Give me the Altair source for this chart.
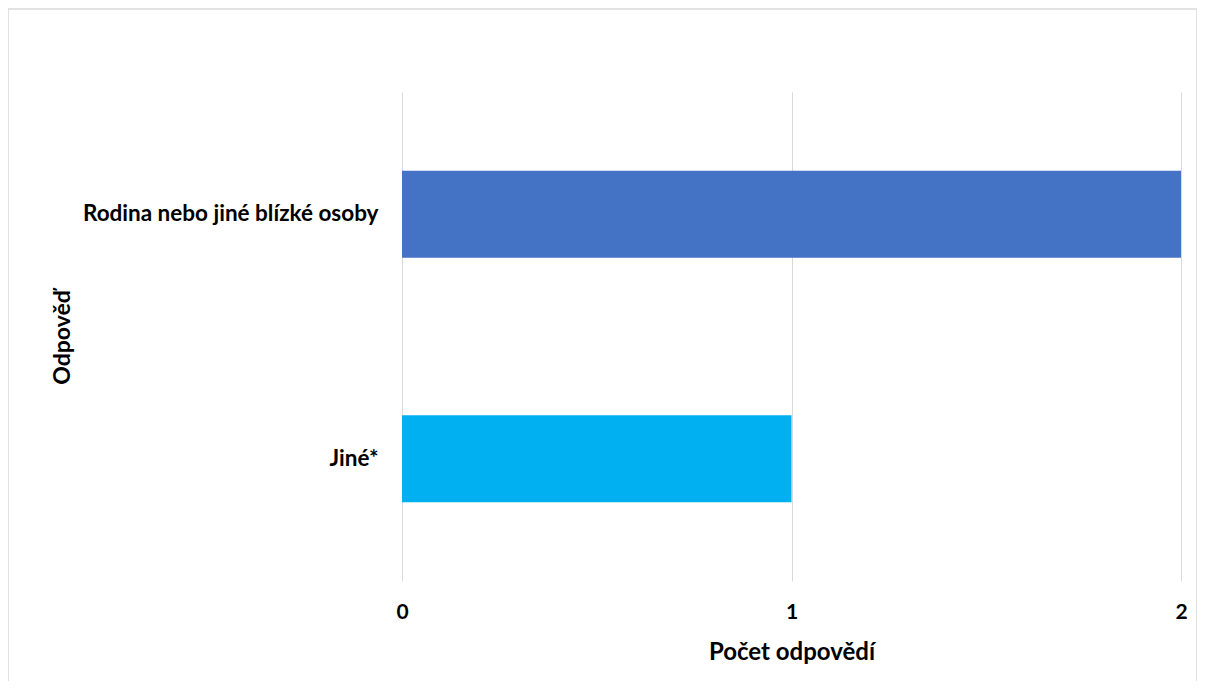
import altair as alt
import pandas as pd

categories = ["Rodina nebo jiné blízké osoby", "Jiné*"]
values = [2, 1]
colors = ["#4472C4", "#00B0F0"]
x_ticks = [0, 1, 2]

df = pd.DataFrame({"Odpověď": categories, "Počet": values, "barva": colors})

FONT = "Lato"

bars = alt.Chart(df).mark_bar(size=87).encode(
    x=alt.X("Počet:Q", scale=alt.Scale(domain=[0, 2], nice=False),
            axis=alt.Axis(title="Počet odpovědí", values=x_ticks, labelExpr="datum.value",
                          grid=True, gridColor="#d9d9d9", gridWidth=1,
                          domain=False, ticks=False, labelPadding=20, labelOverlap=False,
                          labelFlush=False,
                          labelFont=FONT, labelFontSize=21, labelFontWeight="bold",
                          labelColor="#000000",
                          titleFont=FONT, titleFontSize=24, titleFontWeight="bold",
                          titleColor="#000000", titlePadding=18)),
    y=alt.Y("Odpověď:N", sort=categories,
            axis=alt.Axis(title="Odpověď", domain=False, ticks=False, grid=False,
                          labelPadding=24, labelLimit=500, labelFont=FONT, labelFontSize=22.5,
                          labelFontWeight="bold", labelColor="#000000",
                          titleFont=FONT, titleFontSize=23, titleFontWeight="bold",
                          titleColor="#000000", titleX=-340, titleY=245,
                          titleAngle=270, titleAlign="center", titleBaseline="middle")),
    color=alt.Color("barva:N", scale=None, legend=None),
)

border = alt.Chart(df).mark_rect(fill="transparent", stroke="#d9d9d9", strokeWidth=1).encode(
    x=alt.value(-394), x2=alt.value(795), y=alt.value(-83), y2=alt.value(620)
)

chart = alt.layer(border, bars).properties(
    width=779, height=489,
    background="#ffffff",
    autosize=alt.AutoSizeParams(type="none"),
    padding={"left": 394, "top": 84, "right": 16, "bottom": 100},
).configure_view(strokeWidth=0, stroke="transparent")

chart.save("out.html", embed_options={"renderer": "svg", "actions": False})
